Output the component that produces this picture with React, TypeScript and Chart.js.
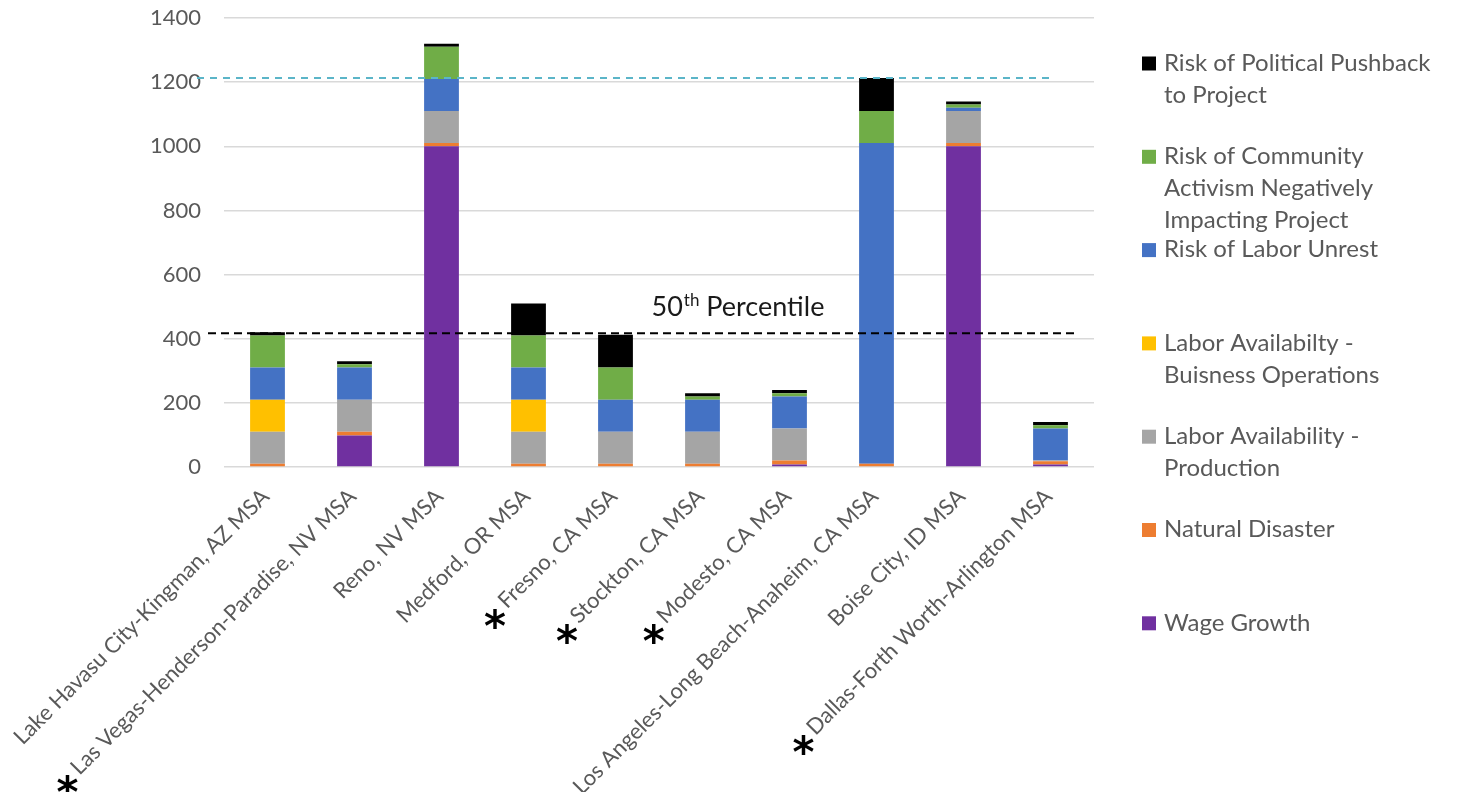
import React, { useEffect, useRef } from "react";
import { Chart, registerables } from "chart.js";

Chart.register(...registerables);

const categories = [
  "Lake Havasu City-Kingman, AZ MSA",
  "Las Vegas-Henderson-Paradise, NV MSA",
  "Reno, NV MSA",
  "Medford, OR MSA",
  "Fresno, CA MSA",
  "Stockton, CA MSA",
  "Modesto, CA MSA",
  "Los Angeles-Long Beach-Anaheim, CA MSA",
  "Boise City, ID MSA",
  "Dallas-Forth Worth-Arlington MSA",
];

// stacked from bottom to top
const wageGrowth = [0, 98, 1000, 0, 0, 0, 8, 0, 1000, 8];
const naturalDisaster = [10, 12, 10, 10, 10, 10, 12, 10, 10, 10];
const laborProduction = [100, 100, 100, 100, 100, 100, 100, 0, 100, 2];
const laborBusiness = [100, 0, 0, 100, 0, 0, 0, 0, 0, 0];
const laborUnrest = [100, 100, 100, 100, 100, 100, 100, 1000, 10, 100];
const communityActivism = [100, 10, 100, 100, 100, 10, 10, 100, 10, 10];
const politicalPushback = [10, 10, 10, 100, 102, 10, 10, 103, 10, 10];

const seriesNames = [
  "Wage Growth",
  "Natural Disaster",
  "Labor Availability - Production",
  "Labor Availabilty - Buisness Operations",
  "Risk of Labor Unrest",
  "Risk of Community Activism Negatively Impacting Project",
  "Risk of Political Pushback to Project",
];
const seriesColors = ["#7030A0", "#ED7D31", "#A5A5A5", "#FFC000", "#4472C4", "#70AD47", "#000000"];

// legend (top to bottom), wrapped lines
const legendLines = [
  ["Risk of Political Pushback", "to Project"],
  ["Risk of Community", "Activism Negatively", "Impacting Project"],
  ["Risk of Labor Unrest"],
  ["Labor Availabilty -", "Buisness Operations"],
  ["Labor Availability -", "Production"],
  ["Natural Disaster"],
  ["Wage Growth"],
];
const legendColors = ["#000000", "#70AD47", "#4472C4", "#FFC000", "#A5A5A5", "#ED7D31", "#7030A0"];

const yMin = 0;
const yMax = 1400;
const yStep = 200;
const percentile50 = 417;
const referenceLine = 1213;
const starredIndices = [1, 4, 5, 6, 9];

const FONT = "Lato, 'Open Sans', sans-serif";
const TEXT = "#595959";
const XFONT = 22;

const overlayPlugin = {
  id: "overlay",
  afterDraw(chart: any) {
    const { ctx, chartArea, scales } = chart;
    const y = scales.y;
    const x = scales.x;
    ctx.save();

    // cyan reference line
    ctx.setLineDash([7, 6]);
    ctx.lineWidth = 2;
    ctx.strokeStyle = "#5BB5C8";
    const yc = y.getPixelForValue(referenceLine);
    ctx.beginPath();
    ctx.moveTo(chartArea.left - 27, yc);
    ctx.lineTo(chartArea.right - 42, yc);
    ctx.stroke();

    // 50th percentile line
    ctx.setLineDash([8, 5]);
    ctx.strokeStyle = "#000000";
    const yp = y.getPixelForValue(percentile50);
    ctx.beginPath();
    ctx.moveTo(chartArea.left - 16, yp);
    ctx.lineTo(chartArea.right - 17, yp);
    ctx.stroke();
    ctx.setLineDash([]);

    // 50th Percentile label
    const lx = x.getPixelForValue(4) + 36;
    const ly = yp - 17;
    ctx.fillStyle = "#1a1a1a";
    ctx.textBaseline = "alphabetic";
    ctx.textAlign = "left";
    ctx.font = `27px ${FONT}`;
    ctx.fillText("50", lx, ly);
    const w50 = ctx.measureText("50").width;
    ctx.font = `17px ${FONT}`;
    ctx.fillText("th", lx + w50 + 1, ly - 10);
    const wth = ctx.measureText("th").width;
    ctx.font = `27px ${FONT}`;
    ctx.fillText(" Percentile", lx + w50 + wth + 1, ly);

    // legend
    const legX = chartArea.right + 48;
    const legTop = chartArea.top + 45;
    const itemGap = 93.3;
    const lineGap = 32;
    ctx.font = `24px ${FONT}`;
    ctx.textBaseline = "middle";
    legendLines.forEach((lines, i) => {
      const cy = legTop + i * itemGap;
      ctx.fillStyle = legendColors[i];
      ctx.fillRect(legX, cy - 6.5, 14, 14);
      ctx.fillStyle = TEXT;
      lines.forEach((t, j) => ctx.fillText(t, legX + 22, cy + j * lineGap));
    });

    // rotated category labels
    const c = Math.SQRT1_2;
    const dx = -2;
    const dy = 26;
    ctx.font = `${XFONT}px ${FONT}`;
    categories.forEach((label, i) => {
      const px = x.getPixelForTick(i) + dx;
      const py = chartArea.bottom + dy;
      ctx.save();
      ctx.translate(px, py);
      ctx.rotate(-Math.PI / 4);
      ctx.textAlign = "right";
      ctx.textBaseline = "middle";
      ctx.fillStyle = TEXT;
      ctx.fillText(label, 0, 0);
      ctx.restore();
    });

    // asterisks before starred labels
    starredIndices.forEach((i) => {
      ctx.font = `${XFONT}px ${FONT}`;
      const tw = ctx.measureText(categories[i]).width;
      const px = x.getPixelForTick(i) + dx;
      const py = chartArea.bottom + dy;
      const sx = px - tw * c - 7;
      const sy = py + tw * c + 25;
      ctx.save();
      ctx.font = `bold 42px 'DejaVu Sans', sans-serif`;
      const m = ctx.measureText("*");
      const h = m.actualBoundingBoxAscent + m.actualBoundingBoxDescent;
      ctx.fillStyle = "#000";
      ctx.textAlign = "center";
      ctx.textBaseline = "alphabetic";
      ctx.fillText("*", sx, sy + m.actualBoundingBoxAscent - h / 2);
      ctx.restore();
    });

    ctx.restore();
  },
};

export default function App() {
  const ref = useRef<HTMLCanvasElement | null>(null);
  useEffect(() => {
    if (!ref.current) return;
    const data = [wageGrowth, naturalDisaster, laborProduction, laborBusiness, laborUnrest, communityActivism, politicalPushback];
    const chart = new Chart(ref.current, {
      type: "bar",
      data: {
        labels: categories,
        datasets: data.map((d, i) => ({
          label: seriesNames[i],
          data: d,
          backgroundColor: seriesColors[i],
          borderWidth: 0,
          categoryPercentage: 1,
          barPercentage: 0.4,
        })),
      },
      options: {
        animation: false,
        responsive: true,
        maintainAspectRatio: false,
        layout: { padding: { top: 18, right: 364, bottom: 0, left: 0 } },
        plugins: { legend: { display: false }, tooltip: { enabled: false } },
        scales: {
          x: {
            stacked: true,
            grid: { display: false, drawTicks: false },
            border: { display: false },
            ticks: { display: false },
            afterFit(scale: any) {
              scale.height = 325;
            },
          },
          y: {
            stacked: true,
            min: yMin,
            max: yMax,
            ticks: {
              stepSize: yStep,
              padding: 0,
              color: TEXT,
              font: { family: FONT, size: 22 },
              callback: (v: any) => String(v),
            },
            grid: {
              color: "#D9D9D9",
              lineWidth: 1.5,
              drawTicks: true,
              tickLength: 23,
              tickColor: "rgba(0,0,0,0)",
            },
            border: { display: false },
            afterFit(scale: any) {
              scale.width = 224;
              scale.paddingTop = 0;
            },
          },
        },
      },
      plugins: [overlayPlugin],
    });
    return () => chart.destroy();
  }, []);
  return (
    <div style={{ position: "fixed", left: 0, top: 0, width: 1458, height: 792, background: "#fff" }}>
      <canvas ref={ref} />
    </div>
  );
}
